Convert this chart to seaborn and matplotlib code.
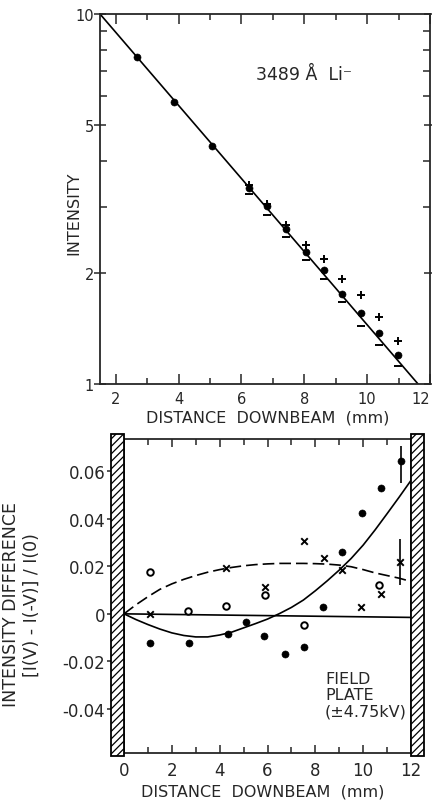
import seaborn as sns
import matplotlib.pyplot as plt
from matplotlib.patches import Rectangle
from matplotlib.collections import LineCollection
from matplotlib.transforms import IdentityTransform
from matplotlib.ticker import FixedLocator, FixedFormatter, NullFormatter

# ---- top panel: 3489 A Li- intensity vs distance (log y) ----
dist = [2.67, 3.86, 5.05, 6.23, 6.81, 7.41, 8.04, 8.62, 9.20, 9.80, 10.39, 10.99]
intensity = [7.64, 5.80, 4.41, 3.39, 3.02, 2.62, 2.27, 2.03, 1.75, 1.556, 1.37, 1.195]
dist_pm = [6.23, 6.81, 7.41, 8.04, 8.62, 9.20, 9.80, 10.39, 10.99]
intensity_plus = [3.45, 3.07, 2.69, 2.38, 2.175, 1.925, 1.745, 1.52, 1.31]
intensity_minus = [3.27, 2.86, 2.49, 2.17, 1.924, 1.665, 1.438, 1.274, 1.116]
fit_dist = [1.5, 11.62]
fit_intensity = [10.0, 1.0]

# ---- bottom panel: intensity difference vs distance ----
pos_filled = [1.10, 2.70, 4.34, 5.09, 5.87, 6.73, 7.54, 8.33, 9.13, 9.96, 10.74, 11.57]
diff_filled = [-0.0124, -0.0123, -0.0083, -0.0036, -0.0094, -0.0170, -0.0139,
               0.0030, 0.0261, 0.0423, 0.0531, 0.0644]
pos_open = [1.09, 2.66, 4.28, 5.90, 7.51, 10.67]
diff_open = [0.0176, 0.0013, 0.0033, 0.0081, -0.0047, 0.0123]
pos_cross = [1.07, 4.27, 5.89, 7.52, 8.35, 9.11, 9.93, 10.75, 11.56]
diff_cross = [0.0, 0.0191, 0.0111, 0.0306, 0.0233, 0.0184, 0.0027, 0.0085, 0.0217]

curve_x = [0, 0.5, 1, 1.5, 2, 2.5, 3, 3.5, 4, 4.5, 5, 5.5, 6, 6.5, 7, 7.5, 8,
           8.5, 9, 9.5, 10, 10.5, 11, 11.5, 12]
solid_y = [0, -0.0024, -0.0045, -0.0064, -0.0080, -0.0091, -0.0097, -0.0097,
           -0.0089, -0.0077, -0.0059, -0.0041, -0.0022, 0.0001, 0.0027, 0.0058,
           0.0097, 0.0139, 0.0184, 0.0233, 0.0289, 0.0353, 0.0421, 0.0490, 0.0561]
dashed_y = [0, 0.0038, 0.0072, 0.0103, 0.0126, 0.0145, 0.0161, 0.0175, 0.0186,
            0.0195, 0.0202, 0.0207, 0.0210, 0.0212, 0.0212, 0.0212, 0.0211,
            0.0209, 0.0205, 0.0198, 0.0186, 0.0172, 0.0161, 0.0150, 0.0136]
base_x = [0, 12]
base_y = [0, -0.0015]

sns.set_style('ticks')
plt.rcParams['font.family'] = ['DejaVu Sans']

fig = plt.figure(figsize=(4.32, 8.04), dpi=100)
ax1 = fig.add_axes([100 / 432, 1 - 385 / 804, 330 / 432, 370 / 804])
ax2 = fig.add_axes([124 / 432, 1 - 754 / 804, 287 / 432, 314 / 804])

# top panel
sns.lineplot(x=fit_dist, y=fit_intensity, ax=ax1, color='k', lw=1.2)
sns.scatterplot(x=dist, y=intensity, ax=ax1, color='k', edgecolor='k', s=26, zorder=3)
sns.scatterplot(x=dist_pm, y=intensity_plus, ax=ax1, marker='+', color='k', s=36, linewidth=1.4)
sns.scatterplot(x=dist_pm, y=intensity_minus, ax=ax1, marker='_', color='k', s=36, linewidth=1.4)
ax1.set_yscale('log')
ax1.set_xlim(1.5, 12)
ax1.set_ylim(1, 10)
ax1.yaxis.set_major_locator(FixedLocator([1, 2, 5, 10]))
ax1.yaxis.set_major_formatter(FixedFormatter(['1', '2', '5', '10']))
ax1.yaxis.set_minor_locator(FixedLocator([3, 4, 6, 7, 8, 9]))
ax1.yaxis.set_minor_formatter(NullFormatter())
ax1.set_xticks([2, 4, 6, 8, 10, 12])
ax1.set_xticks([3, 5, 7, 9, 11], minor=True)
ax1.tick_params(which='both', direction='in', top=True, right=True, width=1.1, labelsize=10.5)
ax1.tick_params(axis='x', which='major', length=7, pad=5)
ax1.tick_params(axis='x', which='minor', length=4)
ax1.tick_params(axis='y', which='major', direction='inout', length=9, pad=0)
ax1.tick_params(axis='y', which='minor', length=5)
ax1.get_xticklabels()[-1].set_horizontalalignment('right')
for sp in ax1.spines.values():
    sp.set_linewidth(1.3)
ax1.set_xlabel('DISTANCE  DOWNBEAM  (mm)', fontsize=11.5)
ax1.xaxis.set_label_coords(0.508, -0.07)
ax1.set_ylabel('INTENSITY', fontsize=11.5)
ax1.yaxis.set_label_coords(-0.055, 0.465)
ax1.text(0.473, 0.838, '3489 Å  Li⁻', transform=ax1.transAxes, fontsize=12.5, va='center')

# bottom panel
sns.lineplot(x=base_x, y=base_y, ax=ax2, color='k', lw=1.2)
sns.lineplot(x=curve_x, y=solid_y, ax=ax2, color='k', lw=1.2)
sns.lineplot(x=curve_x, y=dashed_y, ax=ax2, color='k', lw=1.2, linestyle=(0, (7, 3)))
ax2.errorbar([pos_filled[-1]], [diff_filled[-1]], yerr=[[0.0094], [0.0060]],
             fmt='none', ecolor='k', elinewidth=1.2, capsize=0)
ax2.errorbar([pos_cross[-1]], [diff_cross[-1]], yerr=0.0096,
             fmt='none', ecolor='k', elinewidth=1.2, capsize=0)
sns.scatterplot(x=pos_filled, y=diff_filled, ax=ax2, color='k', edgecolor='k', s=26, zorder=3)
sns.scatterplot(x=pos_open, y=diff_open, ax=ax2, color='k', facecolor='white',
                edgecolor='k', linewidth=1.4, s=22, zorder=3)
sns.scatterplot(x=pos_cross, y=diff_cross, ax=ax2, marker='x', color='k', s=22,
                linewidth=1.4, zorder=3)

ax2.set_xlim(0, 12)
ax2.set_ylim(-0.0585, 0.0735)

# field plates: white boxes with diagonal hatching drawn in pixel space
for x0 in (-0.55, 12):
    plate = Rectangle((x0, -0.0598), 0.55, 0.1354, facecolor='white',
                      edgecolor='black', lw=1.3, clip_on=False, zorder=4)
    ax2.add_patch(plate)
    px0, py0 = ax2.transData.transform((x0, -0.0598))
    px1, py1 = ax2.transData.transform((x0 + 0.55, 0.0756))
    w = px1 - px0
    segs = []
    yy = py0 - w
    while yy < py1:
        segs.append([(px0, yy), (px1, yy + w)])
        yy += 7.5
    hatch = LineCollection(segs, colors='black', linewidths=0.9,
                           transform=IdentityTransform(), zorder=4.5)
    fig.add_artist(hatch)
    hatch.set_clip_path(plate)

ax2.set_yticks([-0.04, -0.02, 0, 0.02, 0.04, 0.06])
ax2.set_yticklabels(['-0.04', '-0.02', '0', '0.02', '0.04', '0.06'])
ax2.set_xticks([0, 2, 4, 6, 8, 10, 12])
ax2.set_xticks([1, 3, 5, 7, 9, 11], minor=True)
ax2.tick_params(axis='y', direction='out', length=12.5, width=1.1, labelsize=12, pad=1)
ax2.tick_params(axis='x', which='both', direction='in', top=True, width=1.1, labelsize=12)
ax2.tick_params(axis='x', which='major', length=6, pad=6)
ax2.tick_params(axis='x', which='minor', length=4)
for sp in ax2.spines.values():
    sp.set_linewidth(1.3)
ax2.set_xlabel('DISTANCE  DOWNBEAM  (mm)', fontsize=11.5)
ax2.xaxis.set_label_coords(0.484, -0.097)
ax2.set_ylabel('INTENSITY DIFFERENCE\n[I(V) - I(-V)] / I(0)', fontsize=12.5, linespacing=1.2)
ax2.yaxis.set_label_coords(-0.29, 0.475)
ax2.text(0.70, 0.261, 'FIELD\nPLATE\n(±4.75kV)', transform=ax2.transAxes,
         fontsize=11.5, va='top', ha='left', linespacing=1.1)

fig.savefig('out.png', dpi=100)
